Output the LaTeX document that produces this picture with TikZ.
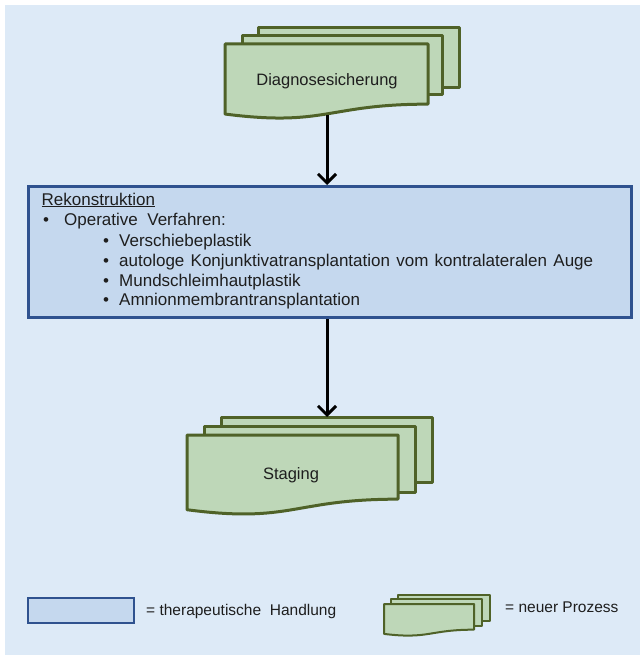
\documentclass[tikz,border=0pt]{standalone}
\usepackage{fontspec}
\setmainfont{Liberation Sans}
\usetikzlibrary{arrows.meta}

\definecolor{bgblue}{RGB}{221,234,247}
\definecolor{actfill}{RGB}{197,216,238}
\definecolor{actline}{RGB}{47,82,143}
\definecolor{procfill}{RGB}{190,215,184}
\definecolor{procline}{RGB}{79,98,40}
\definecolor{txt}{RGB}{30,30,30}

% front sheet of a document stack: wavy lower edge (x1,y1 top-left; x2 right; h height)
\newcommand{\docsheet}[5][procsheet]{%
  \path[#1] (#2,#3) -- (#4,#3) -- (#4,#3+0.802*#5)
    .. controls ({(#2+#4)/2},#3+0.802*#5) and ({(#2+#4)/2},#3+1.107*#5) .. (#2,#3+0.934*#5) -- cycle;}
% a sheet lying behind the front one
\newcommand{\backsheet}[5][procsheet]{%
  \path[#1] (#2,#3) rectangle (#4,#5);}

\tikzset{
  procsheet/.style={draw=procline, fill=procfill, line width=3pt, line join=round},
  smallsheet/.style={procsheet, line width=2pt},
  flow/.style={line width=3pt, -{Straight Barb[length=9pt,width=18pt,line width=3pt]}},
  bodytext/.style={anchor=base west, inner sep=0pt, text=txt, font=\fontsize{17}{19}\selectfont},
  bullet/.style={anchor=base, inner sep=0pt, text=txt, font=\fontsize{17}{19}\selectfont},
  labeltext/.style={text=txt, inner sep=0pt, font=\fontsize{16.5}{18}\selectfont},
  legendtext/.style={anchor=base west, inner sep=0pt, text=txt, font=\fontsize{15.5}{17}\selectfont},
}

\begin{document}
\begin{tikzpicture}[x=1pt, y=-1pt]
  \useasboundingbox (0,0) rectangle (640,655);
  \fill[bgblue] (5,5) rectangle (640,655);

  % process: Diagnosesicherung
  \backsheet{258}{28}{459}{88}
  \backsheet{242}{36}{442}{95}
  \docsheet{225}{44}{428}{75}
  \node[labeltext, anchor=base] (diag) at (327,86) {Diagnosesicherung};
  \coordinate (diagout) at (327,115);

  % therapeutic action box
  \node[draw=actline, fill=actfill, line width=3pt, minimum width=603pt, minimum height=131pt,
        inner sep=0pt, anchor=north west] (rek) at (27,185) {};
  \node[bodytext] at (41.5,205) {\underline{Rekonstruktion}};
  \node[bullet] at (46,225) {•};
  \node[bodytext] at (64,225) {Operative\ \ Verfahren:};
  \node[bullet] at (106,246) {•};
  \node[bodytext] at (119,246) {Verschiebeplastik};
  \node[bullet] at (106,266) {•};
  \node[bodytext] at (119,266) {\hbox to 474pt{autologe\hfil Konjunktivatransplantation\hfil vom\hfil kontralateralen\hfil Auge}};
  \node[bullet] at (106,286) {•};
  \node[bodytext] at (119,286) {Mundschleimhautplastik};
  \node[bullet] at (106,305) {•};
  \node[bodytext] at (119,305) {Amnionmembrantransplantation};

  % process: Staging
  \backsheet{221}{417}{432}{482}
  \backsheet{204}{426}{415}{492}
  \docsheet{187}{435}{398}{80}
  \node[labeltext, anchor=base] (stag) at (291,479) {Staging};
  \coordinate (stagin) at (327,417);

  % connectors
  \draw[flow] (diagout) -- (diagout |- rek.north);
  \draw[flow] (rek.south -| stagin) -- (stagin);

  % legend
  \node[draw=actline, fill=actfill, line width=2pt, minimum width=106pt, minimum height=25pt,
        inner sep=0pt, anchor=north west] (legact) at (27,597) {};
  \node[legendtext] at (146,615) {=\ therapeutische\ \ Handlung};
  \backsheet[smallsheet]{398}{595}{490}{621}
  \backsheet[smallsheet]{391}{599}{482}{626}
  \docsheet[smallsheet]{384}{604}{474}{32}
  \node[legendtext] at (505,612) {=\ neuer\ Prozess};
\end{tikzpicture}
\end{document}
